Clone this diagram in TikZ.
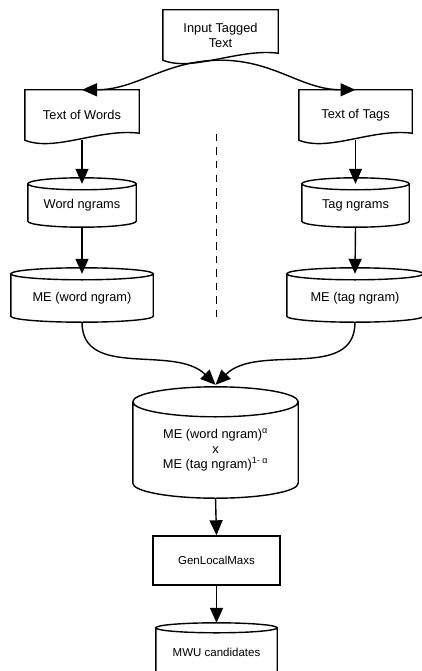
\documentclass[tikz,border=0pt]{standalone}
\usepackage{fontspec}
\setmainfont{Liberation Sans}
\usepackage{tikz}
\usetikzlibrary{calc, arrows.meta}
\tikzstyle{shape line} = [line width=1.4pt]
\tikzstyle{doc}       = [rectangle, inner sep=0pt, align=center, minimum height=50pt]
\tikzstyle{db}        = [rectangle, inner sep=0pt, align=center]
\tikzstyle{box}       = [rectangle, draw, shape line, inner sep=0pt, align=center]
\tikzstyle{arrow}     = [line width=1.4pt, -{Triangle[length=15pt,width=13pt]}]
\tikzstyle{dashed line} = [line width=1.6pt, dash pattern=on 7.5pt off 6pt]

\begin{document}
\begin{tikzpicture}[x=1pt, y=-1pt, font=\fontsize{12.8}{15}\selectfont]
  \useasboundingbox (0,0) rectangle (422,671);

  %documents with the wavy bottom
  \node[doc, minimum width=115pt] (input) at (220.5,35) {Input Tagged\\Text};
  \node[doc, minimum width=114pt] (words) at (82,115) {Text of Words};
  \node[doc, minimum width=113pt] (tags) at (355.5,115) {Text of Tags};
  \foreach \d in {input,words,tags}{
    \draw[shape line] (\d.south west) -- (\d.north west) -- (\d.north east) -- ([yshift=7pt]\d.south east)
      .. controls ([xshift=-40pt,yshift=12pt]\d.south east) and ([xshift=30pt,yshift=-12pt]\d.south west) .. (\d.south west) -- cycle;
  }

  %the stores
  \node[db, minimum width=108pt, minimum height=43pt] (wng) at (82,205.5) {Word ngrams};
  \node[db, minimum width=107pt, minimum height=43pt] (tng) at (355.5,205.5) {Tag ngrams};
  \node[db, minimum width=142pt, minimum height=48pt] (mew) at (82,298) {ME (word ngram)};
  \node[db, minimum width=136pt, minimum height=48pt] (met) at (355,298) {ME (tag ngram)};
  \node[db, minimum width=165pt, minimum height=96pt] (big) at (215.5,450)
    {ME (word ngram)\textsuperscript{α}\\x\\ME (tag ngram)\textsuperscript{1- α}};
  \node[box, minimum width=127pt, minimum height=49pt, font=\fontsize{11.5}{14}\selectfont] (gen) at (216.5,560.5) {GenLocalMaxs};
  \node[db, minimum width=121pt, minimum height=48pt, font=\fontsize{11.5}{14}\selectfont] (mwu) at (216.5,652) {MWU candidates};
  \foreach \c/\r in {wng/6,tng/6,mew/6,met/6,big/15,mwu/5}{
    \draw[shape line] let \p1=(\c.west), \p2=(\c.east), \n1={(\x2-\x1)/2} in
      (\c.north) ellipse[x radius=\n1, y radius=\r pt]
      (\c.north west) -- ([yshift=\r pt]\c.south west)
      arc[start angle=180, end angle=360, x radius=\n1, y radius=\r pt] -- (\c.north east);
  }

  %split line
  \draw[dashed line] (216.5,134) -- (216.5,318);

  \draw[arrow] (input.south) to[out=180,in=0] (words.north);
  \draw[arrow] (input.south) to[out=0,in=180] (tags.north);
  \draw[arrow] (words.south) -- (wng.north);
  \draw[arrow] (tags.south) -- (tng.north);
  \draw[arrow] (wng.south) -- (mew.north);
  \draw[arrow] (tng.south) -- (met.north);
  \draw[arrow] (mew.south) to[out=-90,in=135] ([yshift=17pt]big.north);
  \draw[arrow] (met.south) to[out=-90,in=45] ([yshift=17pt]big.north);
  \draw[arrow] (big.south) -- (gen.north);
  \draw[arrow] (gen.south) -- ([yshift=5pt]mwu.north);
\end{tikzpicture}
\end{document}
